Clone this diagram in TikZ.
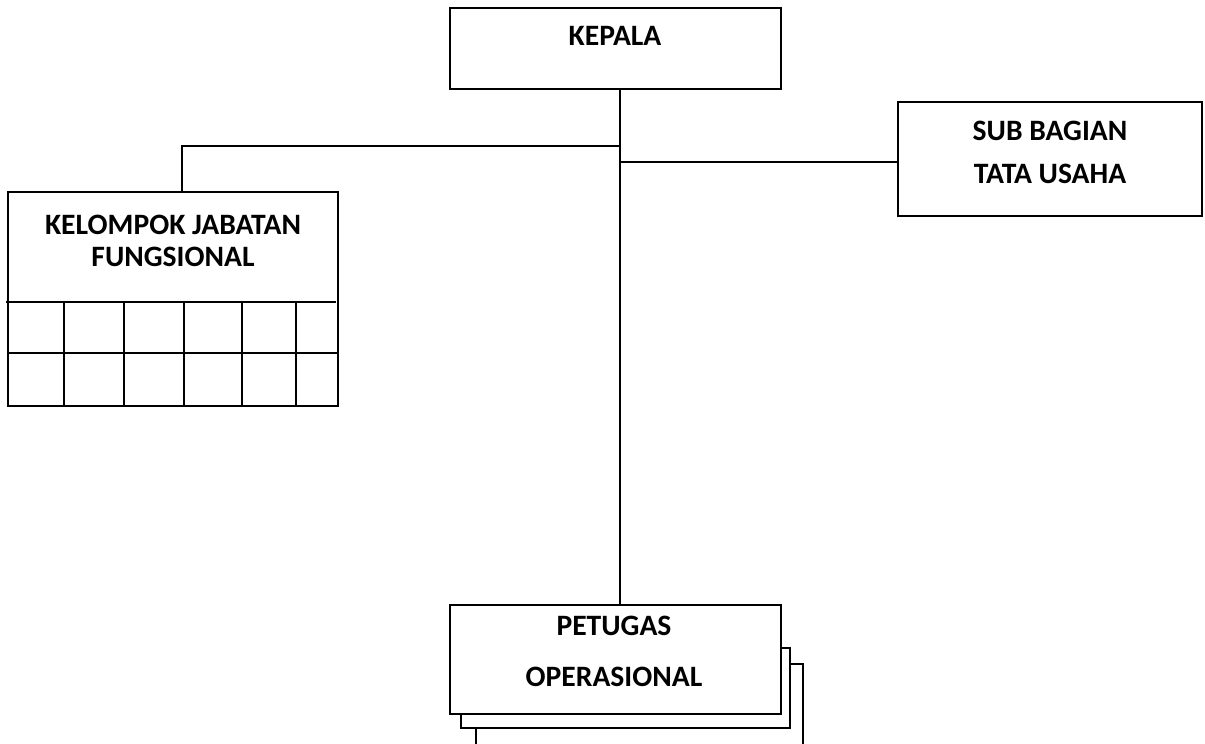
\documentclass[tikz,border=0pt]{standalone}
\usepackage{fontspec}
\setmainfont{Carlito}
\begin{document}
\begin{tikzpicture}[x=0.5pt,y=-0.5pt,
  box/.style={draw=black,line width=1.1pt,fill=white,rectangle,inner sep=0pt,outer sep=0pt},
  lbl/.style={anchor=base,inner sep=0pt,font=\fontsize{14.8}{17}\selectfont\bfseries},
  conn/.style={draw=black,line width=1.1pt}]
\useasboundingbox (0,0) rectangle (1205,744);
% boxes
\node[box,minimum width=165.5pt,minimum height=40.5pt] (kepala) at (615.5,48.5) {};
\node[box,minimum width=152pt,minimum height=57pt] (sub) at (1050,159) {};
\node[box,minimum width=165pt,minimum height=107pt] (kel) at (173,299) {};
% grid in KELOMPOK box
\draw[conn] (6,302) -- (336,302);
\draw[conn] (kel.west |- 0,353) -- (kel.east |- 0,353);
\foreach \gx in {64,124,184,242,296}{
  \draw[conn] (\gx,302) -- (\gx,406);
}
% stacked PETUGAS boxes
\path[box] (476,744) -- (476,664) -- (803,664) -- (803,744);
\node[box,minimum width=164.5pt,minimum height=40pt] (pet2) at (625.5,688) {};
\node[box,minimum width=165.5pt,minimum height=54.5pt] (pet) at (615.5,659.5) {};
% labels
\node[lbl] (tkepala) at (615,45.5) {KEPALA};
\node[lbl] (tsub1) at (1050,140) {SUB BAGIAN};
\node[lbl] (tsub2) at (1050,183) {TATA USAHA};
\node[lbl] (tkel1) at (173,234) {KELOMPOK JABATAN};
\node[lbl] (tkel2) at (173,266) {FUNGSIONAL};
\node[lbl] (tpet1) at (614,635) {PETUGAS};
\node[lbl] (tpet2) at (614,686) {OPERASIONAL};
% connectors
\coordinate (j1) at (620,146);
\coordinate (j2) at (620,162);
\coordinate (kt) at (182,146);
\draw[conn] (kepala.south -| j1) -- (pet.north -| j1);
\draw[conn] (j1) -- (kt) -- (kt |- kel.north);
\draw[conn] (j2) -- (j2 -| sub.west);
\end{tikzpicture}
\end{document}
